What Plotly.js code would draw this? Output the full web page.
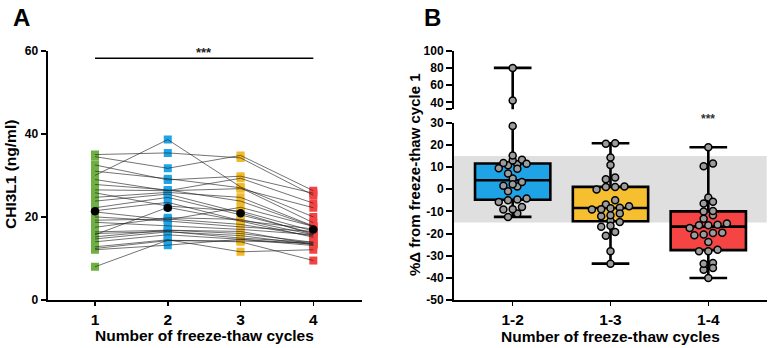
<!DOCTYPE html>
<html>
<head>
<meta charset="utf-8">
<script src="https://cdn.plot.ly/plotly-3.0.1.min.js"></script>
<style>
  html, body { margin: 0; padding: 0; background: #ffffff; }
  #chart { width: 772px; height: 348px; }
</style>
</head>
<body>
<div id="chart"></div>
<script>
// ---- Panel A: CHI3L1 (ng/ml) for each subject after 1..4 freeze-thaw cycles ----
const cycles = [1, 2, 3, 4];
const cycleLabels = ['1', '2', '3', '4'];
const cycle1 = [35.0, 34.5, 32.5, 31.0, 30.0, 29.0, 27.8, 26.5, 25.8, 24.7, 23.8, 22.2, 21.5, 21.2,
                20.0, 19.2, 18.7, 17.5, 16.4, 16.0, 15.7, 15.2, 14.7, 14.0, 12.8, 12.4, 12.1, 8.0];
const cycle2 = [35.4, 31.7, 28.9, 29.2, 38.6, 26.3, 26.5, 26.3, 22.6, 25.9, 25.5, 24.7, 23.5, 19.3,
                19.0, 19.5, 17.9, 19.8, 16.8, 16.5, 22.3, 16.8, 16.4, 15.7, 14.5, 14.3, 13.2, 14.4];
const cycle3 = [34.2, 34.8, 29.8, 27.0, 27.2, 29.3, 23.8, 26.8, 21.4, 24.7, 21.0, 20.5, 19.1, 22.3,
                17.6, 18.2, 17.0, 19.4, 16.0, 14.9, 19.0, 16.5, 15.5, 14.6, 11.6, 14.2, 14.6, 14.0];
const cycle4 = [25.2, 26.3, 25.7, 18.6, 20.0, 23.3, 17.7, 22.2, 16.6, 17.8, 15.8, 16.1, 17.1, 17.7,
                16.5, 15.4, 15.7, 15.7, 13.9, 13.9, 15.1, 13.4, 13.3, 13.1, 12.1, 13.7, 13.5, 9.5];
const cycleColors = ['#6fb043', '#1ea5e8', '#f2b928', '#f54343'];
const significanceA = '***';

// ---- Panel B: % change from freeze-thaw cycle 1 ----
const groups = ['1-2', '1-3', '1-4'];
const change12 = [1.2, -8, -11, -5.8, 28.5, -9.2, -4.7, -0.9, -12.5, 4.8, 7.1, 11.2, 9.4, -9,
                  -5, 1.5, -4.2, 13.3, 2.2, 3.2, 42, 10.8, 11.5, 11.8, 13, 15.2, 9.2, 80];
const change13 = [-14.4, 1.0, -8.4, -21, -9.2, 1.0, -28, 1.2, -17, -0.1, -33.6, -7.7, -11, 5.3,
                  -12.2, -5, -16.5, 10.9, -19.3, -6.9, 20.7, -8.6, -11.8, 4.5, -9, 14.3, 20.5, -14.8];
const change14 = [-28, -23.8, -20.8, -40.1, -33.3, -19.8, -36.3, -16.3, -35.6, -28, -33.6, -27.3, -20.4, -16.3,
                  -17.5, -19.6, -16, -10.1, -15.5, -13.3, -3.8, -11.8, -9.8, -6.5, -5.7, 10.4, 11.6, 18.9];
const groupColors = ['#1da3e6', '#f5bf2f', '#f54444'];
const significanceB = ['', '', '***'];
const acceptanceLimit = 15;          // ±% variation band
const lowerRange = [-50, 30];        // lower segment of the broken axis
const upperRange = [31.9, 100];      // upper segment of the broken axis

const FONT = 'Liberation Sans, Arial, Helvetica, sans-serif';

// ---------- helpers ----------
function mean(a) { return a.reduce((s, v) => s + v, 0) / a.length; }
function quantile(a, p) {
  const s = a.slice().sort((x, y) => x - y);
  const pos = (s.length - 1) * p, lo = Math.floor(pos), hi = Math.ceil(pos);
  return s[lo] + (s[hi] - s[lo]) * (pos - lo);
}
// GraphPad-like scatter layout: values close in height share a row, spread symmetrically
function swarmOffsets(values, rowSpan, step) {
  const order = values.map((v, i) => i).sort((a, b) => values[a] - values[b]);
  const off = new Array(values.length).fill(0);
  let row = [];
  const flush = () => {
    row.forEach((k, j) => { off[k] = (j - (row.length - 1) / 2) * step; });
    row = [];
  };
  order.forEach(k => {
    if (row.length && values[k] - values[row[0]] > rowSpan) flush();
    row.push(k);
  });
  flush();
  return off;
}

const traces = [];

// ---------- Panel A ----------
const series = [cycle1, cycle2, cycle3, cycle4];
series.forEach((vals, c) => {
  traces.push({
    type: 'scatter', mode: 'markers', xaxis: 'x', yaxis: 'y',
    x: vals.map(() => cycles[c]), y: vals,
    marker: { symbol: 'square', size: 8, color: cycleColors[c], line: { width: 0 } },
    hoverinfo: 'skip', showlegend: false
  });
});
// one polyline per subject, separated by gaps
const lx = [], ly = [];
cycle1.forEach((_, i) => {
  series.forEach((vals, c) => { lx.push(cycles[c]); ly.push(vals[i]); });
  lx.push(null); ly.push(null);
});
traces.push({
  type: 'scatter', mode: 'lines', xaxis: 'x', yaxis: 'y', x: lx, y: ly,
  line: { color: 'rgba(35,35,35,0.8)', width: 0.8 }, connectgaps: false,
  hoverinfo: 'skip', showlegend: false
});
traces.push({
  type: 'scatter', mode: 'markers', xaxis: 'x', yaxis: 'y',
  x: cycles, y: series.map(mean),
  marker: { symbol: 'circle', size: 8.5, color: '#000000' },
  hoverinfo: 'skip', showlegend: false
});

// ---------- Panel B ----------
const changes = [change12, change13, change14];
changes.forEach((vals, g) => {
  const stats = {
    q1: [quantile(vals, 0.25)], median: [quantile(vals, 0.5)], q3: [quantile(vals, 0.75)],
    lowerfence: [Math.min(...vals)], upperfence: [Math.max(...vals)]
  };
  ['y3', 'y4'].forEach(ya => {
    traces.push(Object.assign({
      type: 'box', xaxis: 'x3', yaxis: ya, x: [g],
      fillcolor: groupColors[g], line: { color: '#000000', width: 2.6 },
      width: 0.77, whiskerwidth: 0.5, boxpoints: false,
      hoverinfo: 'skip', showlegend: false
    }, stats));
  });
  const off = swarmOffsets(vals, 2.2, 0.095);
  const lowX = [], lowY = [], upX = [], upY = [];
  vals.forEach((v, i) => {
    if (v <= lowerRange[1]) { lowX.push(g + off[i]); lowY.push(v); }
    else { upX.push(g + off[i]); upY.push(v); }
  });
  [[lowX, lowY, 'y3'], [upX, upY, 'y4']].forEach(([px, py, ya]) => {
    if (!px.length) return;
    traces.push({
      type: 'scatter', mode: 'markers', xaxis: 'x3', yaxis: ya, x: px, y: py,
      cliponaxis: false,
      marker: { symbol: 'circle', size: 7, color: '#9c9c9c', line: { color: '#000000', width: 1.5 } },
      hoverinfo: 'skip', showlegend: false
    });
  });
});

// ---------- layout ----------
const W = 772, H = 348;
const px = v => v / W, py = v => 1 - v / H;
const tickBold = size => ({ family: FONT, size: size, color: '#000000', weight: 'bold' });
const baseAxis = {
  showline: true, linecolor: '#000000', linewidth: 2, mirror: false,
  showgrid: false, zeroline: false, ticks: 'outside', tickcolor: '#000000', fixedrange: true
};
const lowerTicks = [];
for (let v = lowerRange[0]; v <= lowerRange[1]; v += 10) lowerTicks.push(v);

const layout = {
  width: W, height: H,
  margin: { l: 0, r: 0, t: 0, b: 0, pad: 0 },
  paper_bgcolor: '#ffffff', plot_bgcolor: 'rgba(0,0,0,0)',
  showlegend: false, boxmode: 'overlay',
  font: { family: FONT, color: '#000000' },
  xaxis: Object.assign({}, baseAxis, {
    domain: [px(47.5), px(362)], range: [0.347, 4.669], anchor: 'y',
    tickvals: cycles, ticktext: cycleLabels, ticklen: 4, tickwidth: 1.5, tickfont: tickBold(15.5)
  }),
  yaxis: Object.assign({}, baseAxis, {
    domain: [py(300), py(50.7)], range: [0, 60], anchor: 'x',
    tickvals: [0, 20, 40, 60], ticklen: 5, tickwidth: 2, tickfont: tickBold(12)
  }),
  xaxis3: Object.assign({}, baseAxis, {
    domain: [px(454), px(766.7)], range: [-0.6, 2.597], anchor: 'y3',
    tickvals: [0, 1, 2], ticktext: groups, ticklen: 4, tickwidth: 1.5, tickfont: tickBold(15.5)
  }),
  yaxis3: Object.assign({}, baseAxis, {
    domain: [py(300), py(122.7)], range: lowerRange, anchor: 'x3',
    tickvals: lowerTicks, ticktext: lowerTicks.map(String), ticklen: 6, tickwidth: 2, tickfont: tickBold(12)
  }),
  yaxis4: Object.assign({}, baseAxis, {
    domain: [py(109.3), py(50.7)], range: upperRange, anchor: 'x3',
    tickvals: [upperRange[0], 40, 60, 80, 100], ticktext: ['', '40', '60', '80', '100'],
    ticklen: 6, tickwidth: 2, tickfont: tickBold(12)
  }),
  shapes: [
    { type: 'rect', layer: 'below', xref: 'x3 domain', x0: 0, x1: 1, yref: 'y3',
      y0: -acceptanceLimit, y1: acceptanceLimit, fillcolor: '#dfdfdf', line: { width: 0 } },
    { type: 'line', xref: 'x', yref: 'y', x0: cycles[0], x1: cycles[3], y0: 58.2, y1: 58.2,
      line: { color: '#000000', width: 1.6 } }
  ],
  annotations: [
    { text: 'A', xref: 'paper', yref: 'paper', x: px(11), y: py(2), xanchor: 'left', yanchor: 'top',
      showarrow: false, font: { family: FONT, size: 24, weight: 'bold' } },
    { text: 'B', xref: 'paper', yref: 'paper', x: px(422), y: py(2), xanchor: 'left', yanchor: 'top',
      showarrow: false, font: { family: FONT, size: 24, weight: 'bold' } },
    { text: 'CHI3L1 (ng/ml)', xref: 'paper', yref: 'paper', x: px(10), y: py(175), textangle: -90,
      xanchor: 'center', yanchor: 'middle', showarrow: false, font: { family: FONT, size: 15.5, weight: 'bold' } },
    { text: 'Number of freeze-thaw cycles', xref: 'paper', yref: 'paper', x: px(204.5), y: py(335),
      xanchor: 'center', yanchor: 'middle', showarrow: false, font: { family: FONT, size: 15.5, weight: 'bold' } },
    { text: '%Δ from freeze-thaw cycle 1', xref: 'paper', yref: 'paper', x: px(414), y: py(175), textangle: -90,
      xanchor: 'center', yanchor: 'middle', showarrow: false, font: { family: FONT, size: 15, weight: 'bold' } },
    { text: 'Number of freeze-thaw cycles', xref: 'paper', yref: 'paper', x: px(610.3), y: py(336),
      xanchor: 'center', yanchor: 'middle', showarrow: false, font: { family: FONT, size: 15.5, weight: 'bold' } },
    { text: significanceA, xref: 'x', yref: 'y', x: (cycles[0] + cycles[3]) / 2, y: 59.6,
      xanchor: 'center', yanchor: 'middle', showarrow: false, font: { family: FONT, size: 13, weight: 'bold', color: '#222222' } }
  ]
};
significanceB.forEach((s, g) => {
  if (!s) return;
  layout.annotations.push({
    text: s, xref: 'x3', yref: 'y3 domain', x: g, y: 1.02,
    xanchor: 'center', yanchor: 'middle', showarrow: false,
    font: { family: FONT, size: 12, weight: 'bold', color: '#333333' }
  });
});

Plotly.newPlot('chart', traces, layout, { staticPlot: true, displayModeBar: false });
</script>
</body>
</html>
